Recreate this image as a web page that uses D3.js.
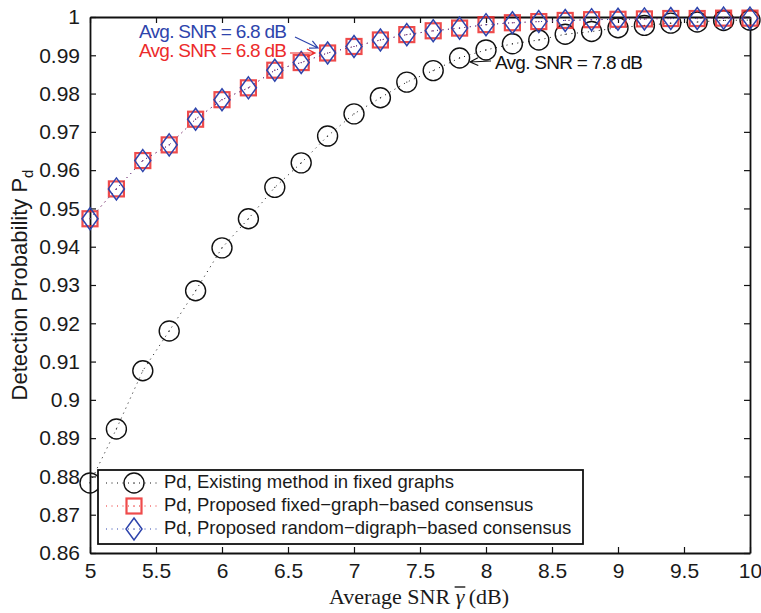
<!DOCTYPE html>
<meta charset="utf-8">
<style>
  body { margin: 0; background: white; }
  svg { display: block; }
  text { font-family: "Liberation Sans", Arial, Helvetica, sans-serif; }
  .axis path, .axis line { stroke: #111; }
  .serif { font-family: "Liberation Serif", "Times New Roman", serif; }
</style>
<body>
</body>
<script src="https://cdn.jsdelivr.net/npm/d3@7"></script>
<script>
  // data
  const snr = [5, 5.2, 5.4, 5.6, 5.8, 6, 6.2, 6.4, 6.6, 6.8, 7, 7.2, 7.4,
               7.6, 7.8, 8, 8.2, 8.4, 8.6, 8.8, 9, 9.2, 9.4, 9.6, 9.8, 10];
  const existing = [0.8783, 0.8924, 0.9076, 0.9180, 0.9285, 0.9397, 0.9473, 0.9555,
                    0.9619, 0.9689, 0.9747, 0.9789, 0.9830, 0.9860, 0.9893, 0.9914,
                    0.9930, 0.9940, 0.9955, 0.9962, 0.9972, 0.9978, 0.9984, 0.9987,
                    0.9991, 0.9992];
  const fixedGraph = [0.9473, 0.9551, 0.9625, 0.9666, 0.9733, 0.9784, 0.9815, 0.9861,
                      0.9881, 0.9906, 0.9923, 0.9940, 0.9954, 0.9964, 0.9971, 0.9980,
                      0.9985, 0.9988, 0.9991, 0.9993, 0.9994, 0.9995, 0.9996, 0.9996,
                      0.9997, 0.9997];
  const randomDigraph = [0.9473, 0.9551, 0.9625, 0.9666, 0.9733, 0.9784, 0.9815, 0.9861,
                         0.9881, 0.9906, 0.9923, 0.9940, 0.9954, 0.9964, 0.9971, 0.9980,
                         0.9985, 0.9988, 0.9991, 0.9993, 0.9994, 0.9995, 0.9996, 0.9996,
                         0.9997, 0.9997];
  const xTicks = [5, 5.5, 6, 6.5, 7, 7.5, 8, 8.5, 9, 9.5, 10];
  const yTicks = [0.86, 0.87, 0.88, 0.89, 0.9, 0.91, 0.92, 0.93, 0.94, 0.95,
                  0.96, 0.97, 0.98, 0.99, 1];
  const legendLabels = ['Pd, Existing method in fixed graphs',
                        'Pd, Proposed fixed\u2212graph\u2212based consensus',
                        'Pd, Proposed random\u2212digraph\u2212based consensus'];

  const w = 761, h = 613;
  const l = 90, r = 750, t = 17, b = 553;
  const ink = '#1a1a1a', black = '#111', red = '#ec2b2b', blue = '#2e44ac';

  const svg = d3.select('body').append('svg')
    .attr('width', w)
    .attr('height', h);

  const x = d3.scaleLinear().domain([5, 10]).range([l, r]);
  const y = d3.scaleLinear().domain([0.86, 1]).range([b, t]);
  const tick = 6;

  // axes, matlab box style with inward ticks all round
  const axis = (gen, tr) => svg.append('g').attr('class', 'axis')
    .attr('transform', tr).call(gen);
  axis(d3.axisBottom(x).tickValues(xTicks).tickSizeInner(-tick)
    .tickSizeOuter(0).tickPadding(10).tickFormat(d3.format('')), `translate(0,${b})`);
  axis(d3.axisTop(x).tickValues(xTicks).tickSizeInner(-tick).tickSizeOuter(0)
    .tickFormat(''), `translate(0,${t})`);
  axis(d3.axisLeft(y).tickValues(yTicks).tickSizeInner(-tick)
    .tickSizeOuter(0).tickPadding(10).tickFormat(d3.format('')), `translate(${l},0)`);
  axis(d3.axisRight(y).tickValues(yTicks).tickSizeInner(-tick).tickSizeOuter(0)
    .tickFormat(''), `translate(${r},0)`);
  svg.selectAll('.axis text').attr('font-size', 21).style('fill', ink)
    .attr('font-family', '"Liberation Sans", Arial, sans-serif');
  svg.selectAll('.axis path').attr('stroke-width', 1.8);
  svg.selectAll('.axis line').attr('stroke-width', 1.2);

  const plot = svg.append('g');

  const series = [
    {vals: existing, color: black, marker: 'circle'},
    {vals: fixedGraph, color: red, marker: 'square'},
    {vals: randomDigraph, color: blue, marker: 'diamond'},
  ];

  const line = d3.line().x(d => x(d[0])).y(d => y(d[1]));

  function marker(sel, kind, color) {
    if (kind === 'circle') {
      sel.append('circle').attr('r', 10)
        .attr('fill', 'none').attr('stroke', color).attr('stroke-width', 1.4);
    } else if (kind === 'square') {
      sel.append('rect').attr('x', -7.5).attr('y', -7.5).attr('width', 15).attr('height', 15)
        .attr('fill', 'none').attr('stroke', color).attr('stroke-width', 2.2)
        .attr('stroke-opacity', 0.85);
    } else {
      sel.append('path').attr('d', 'M0,-11L8,0L0,11L-8,0Z')
        .attr('fill', 'none').attr('stroke', color).attr('stroke-width', 1.5);
    }
    sel.append('circle').attr('r', 0.6).attr('fill', color);
  }

  series.forEach(s => {
    const pts = snr.map((v, i) => [v, s.vals[i]]);
    plot.append('path').attr('d', line(pts))
      .attr('fill', 'none').attr('stroke', s.color).attr('stroke-width', 1)
      .attr('stroke-dasharray', '1,4.5');
    plot.append('g').selectAll('g')
      .data(pts)
      .join('g')
      .attr('transform', d => `translate(${x(d[0])},${y(d[1])})`)
      .each(function() { marker(d3.select(this), s.marker, s.color); });
  });

  // annotations
  const arrow = (x1, y1, x2, y2, color) => {
    const a = Math.atan2(y2 - y1, x2 - x1), hl = 9, hw = 0.45;
    const p = d3.path();
    p.moveTo(x1, y1); p.lineTo(x2, y2);
    p.moveTo(x2 - hl * Math.cos(a - hw), y2 - hl * Math.sin(a - hw));
    p.lineTo(x2, y2);
    p.lineTo(x2 - hl * Math.cos(a + hw), y2 - hl * Math.sin(a + hw));
    svg.append('path').attr('d', p.toString()).attr('fill', 'none')
      .attr('stroke', color).attr('stroke-width', 1.2);
  };
  const note = (tx, ty, color, label) => svg.append('text')
    .attr('x', tx).attr('y', ty).attr('font-size', 19).style('fill', color)
    .attr('dominant-baseline', 'middle')
    .attr('textLength', 148).attr('lengthAdjust', 'spacing').text(label);

  note(139, 33, blue, 'Avg. SNR = 6.8 dB');
  note(139, 52, red, 'Avg. SNR = 6.8 dB');
  note(495, 64, black, 'Avg. SNR = 7.8 dB');
  arrow(295, 37, 318, 48, blue);
  arrow(290, 53, 315, 53, red);
  arrow(491, 61, 470, 62, black);

  // legend
  const lg = svg.append('g');
  lg.append('rect').attr('x', 98).attr('y', 470).attr('width', 485).attr('height', 74)
    .attr('fill', 'white').attr('stroke', black).attr('stroke-width', 1.8);
  series.forEach((s, i) => {
    const ly = 483 + i * 23;
    lg.append('line').attr('x1', 106).attr('x2', 158).attr('y1', ly).attr('y2', ly)
      .attr('stroke', s.color).attr('stroke-dasharray', '1,4.5');
    marker(lg.append('g').attr('transform', `translate(134,${ly})`), s.marker, s.color);
    lg.append('text').attr('x', 164).attr('y', ly).attr('dominant-baseline', 'middle')
      .attr('font-size', 18.5).style('fill', ink).text(legendLabels[i]);
  });

  // axis titles
  const yt = svg.append('text')
    .attr('transform', `translate(27,${(t + b) / 2}) rotate(-90)`)
    .attr('text-anchor', 'middle').attr('font-size', 22).style('fill', ink);
  yt.append('tspan').text('Detection Probability P');
  yt.append('tspan').attr('font-size', 15).attr('dy', 6).text('d');

  const xt = svg.append('text').attr('class', 'serif')
    .attr('x', (l + r) / 2 - 1).attr('y', 604).attr('text-anchor', 'middle')
    .attr('font-size', 22).style('fill', ink);
  xt.append('tspan').text('Average SNR ');
  xt.append('tspan').attr('font-style', 'italic').text('\u03b3');
  xt.append('tspan').text('\u2009(dB)');
  const gb = xt.node().getExtentOfChar(12);
  svg.append('line').attr('x1', gb.x - 1).attr('x2', gb.x + gb.width + 1)
    .attr('y1', gb.y + 3).attr('y2', gb.y + 3)
    .attr('stroke', ink).attr('stroke-width', 1.4);
</script>
